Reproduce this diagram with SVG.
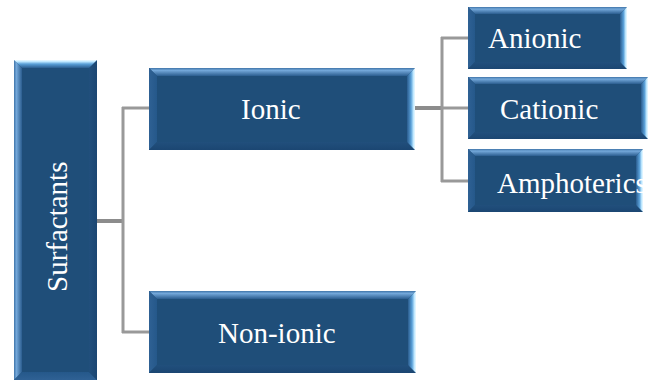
<svg xmlns="http://www.w3.org/2000/svg" width="648" height="381" viewBox="0 0 648 381">
<defs>
<linearGradient id="gTop" x1="0" y1="0" x2="0" y2="1">
<stop offset="0" stop-color="#3f74a8"/>
<stop offset="0.3" stop-color="#74a8da"/>
<stop offset="1" stop-color="#2b5d8f"/>
</linearGradient>
<linearGradient id="gLeft" x1="0" y1="0" x2="1" y2="0">
<stop offset="0" stop-color="#2f6194"/>
<stop offset="1" stop-color="#25588a"/>
</linearGradient>
<linearGradient id="gBot" x1="0" y1="0" x2="0" y2="1">
<stop offset="0" stop-color="#214f7c"/>
<stop offset="1" stop-color="#1b4672"/>
</linearGradient>
<linearGradient id="gRight" x1="0" y1="0" x2="1" y2="0">
<stop offset="0" stop-color="#2a5c8e"/>
<stop offset="0.5" stop-color="#5aa0d8"/>
<stop offset="0.8" stop-color="#bfe8ff"/>
<stop offset="1" stop-color="#eefaff"/>
</linearGradient>
</defs>
<style>
.base{fill:#1f4e79}
.bt{fill:url(#gTop)}
.bl{fill:url(#gLeft)}
.bb{fill:url(#gBot)}
.br{fill:url(#gRight)}
.lbl{font-family:"Liberation Serif","Times New Roman",serif;font-size:29px;fill:#ffffff}
.ln{stroke:#999999;fill:none;stroke-width:3}
.lt{stroke:#8c8c8c;fill:none;stroke-width:4}
</style>
<g id="connectors">
<path class="lt" d="M97,221 H123"/>
<path class="ln" d="M123,107 V333"/>
<path class="ln" d="M122,108 H149"/>
<path class="ln" d="M122,332 H149"/>
<path class="lt" d="M415,108 H442"/>
<path class="ln" d="M442,37 V182"/>
<path class="ln" d="M441,38 H468"/>
<path class="ln" d="M441,108 H468"/>
<path class="ln" d="M441,181 H468"/>
</g>
<g id="surfactants" transform="translate(14,380) rotate(-90)">
<rect class="base" x="0" y="0" width="320" height="83"/>
<polygon class="bt" points="0,0 320,0 312,8 8,8"/>
<polygon class="bl" points="0,0 8,8 8,75 0,83"/>
<polygon class="bb" points="0,83 8,75 312,75 320,83"/>
<polygon class="br" points="320,0 320,83 312,75 312,8"/>
<text class="lbl" x="88" y="53">Surfactants</text>
</g>
<g id="ionic" transform="translate(149,68)">
<rect class="base" x="0" y="0" width="266" height="82"/>
<polygon class="bt" points="0,0 266,0 258,8 8,8"/>
<polygon class="bl" points="0,0 8,8 8,74 0,82"/>
<polygon class="bb" points="0,82 8,74 258,74 266,82"/>
<polygon class="br" points="266,0 266,82 258,74 258,8"/>
<text class="lbl" x="92" y="51">Ionic</text>
</g>
<g id="nonionic" transform="translate(149,291)">
<rect class="base" x="0" y="0" width="267" height="82"/>
<polygon class="bt" points="0,0 267,0 259,8 8,8"/>
<polygon class="bl" points="0,0 8,8 8,74 0,82"/>
<polygon class="bb" points="0,82 8,74 259,74 267,82"/>
<polygon class="br" points="267,0 267,82 259,74 259,8"/>
<text class="lbl" x="69" y="52">Non-ionic</text>
</g>
<g id="anionic" transform="translate(468,7)">
<rect class="base" x="0" y="0" width="159" height="62"/>
<polygon class="bt" points="0,0 159,0 152,7 7,7"/>
<polygon class="bl" points="0,0 7,7 7,55 0,62"/>
<polygon class="bb" points="0,62 7,55 152,55 159,62"/>
<polygon class="br" points="159,0 159,62 152,55 152,7"/>
<text class="lbl" x="20" y="41">Anionic</text>
</g>
<g id="cationic" transform="translate(468,77)">
<rect class="base" x="0" y="0" width="180" height="62"/>
<polygon class="bt" points="0,0 180,0 173,7 7,7"/>
<polygon class="bl" points="0,0 7,7 7,55 0,62"/>
<polygon class="bb" points="0,62 7,55 173,55 180,62"/>
<polygon class="br" points="180,0 180,62 173,55 173,7"/>
<text class="lbl" x="32" y="42">Cationic</text>
</g>
<g id="amphoterics" transform="translate(468,149)">
<rect class="base" x="0" y="0" width="175" height="63"/>
<polygon class="bt" points="0,0 175,0 168,7 7,7"/>
<polygon class="bl" points="0,0 7,7 7,56 0,63"/>
<polygon class="bb" points="0,63 7,56 168,56 175,63"/>
<polygon class="br" points="175,0 175,63 168,56 168,7"/>
<text class="lbl" x="29" y="44" font-size="28.5">Amphoterics</text>
</g>
</svg>
